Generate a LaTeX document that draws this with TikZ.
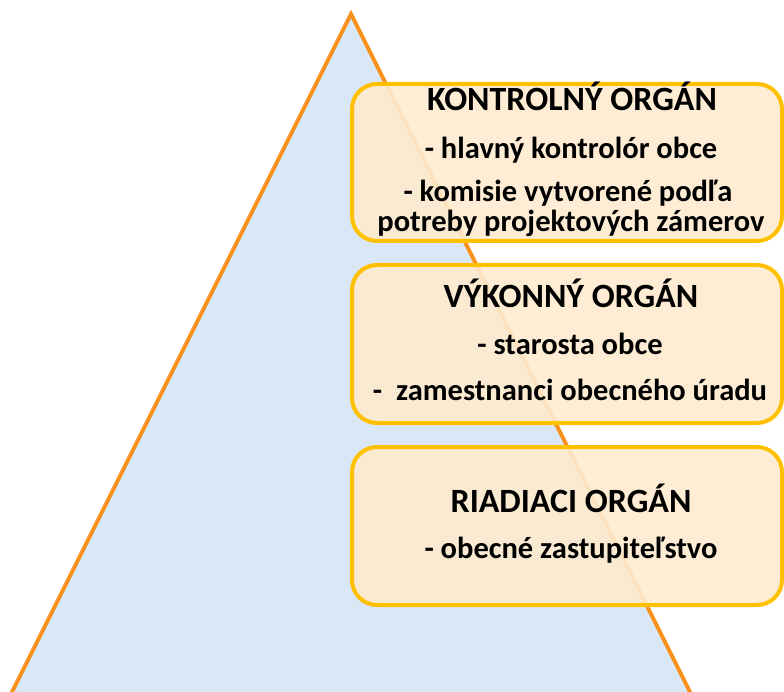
\documentclass[tikz,border=0pt]{standalone}
\usepackage{fontspec}
\setmainfont{Carlito}
\definecolor{triblue}{RGB}{218,231,246}
\definecolor{triedge}{RGB}{247,146,30}
\definecolor{boxfill}{RGB}{254,235,207}
\definecolor{boxedge}{RGB}{255,192,0}
\tikzset{
  orgbox/.style={draw=boxedge, line width=4pt, fill=boxfill, fill opacity=0.9, rounded corners=25pt},
  ttl/.style={anchor=base, inner sep=0pt, font=\bfseries\fontsize{34}{36}\selectfont},
  itm/.style={anchor=base, inner sep=0pt, font=\bfseries\fontsize{30.5}{32}\selectfont}
}
\begin{document}
\begin{tikzpicture}[x=1pt,y=-1pt]
\useasboundingbox (0,0) rectangle (784,692);
\clip (0,0) rectangle (784,692);
% pyramid
\coordinate (apex) at (351,14);
\coordinate (bl) at (4,708);
\coordinate (br) at (698,708);
\fill[triblue] (apex) -- (br) -- (bl) -- cycle;
\draw[triedge, line width=4pt, line join=miter] (bl) -- (apex) -- (br);
% boxes
\path[orgbox] (352,84) rectangle (782,241);
\node[inner sep=0pt] (b1) at (567,162.5) {};
\path[orgbox] (352,265) rectangle (782,423);
\node[inner sep=0pt] (b2) at (567,344) {};
\path[orgbox] (352,447) rectangle (782,605);
\node[inner sep=0pt] (b3) at (567,526) {};
% texts box 1
\node[ttl] (t1) at (572,111) {KONTROLNÝ ORGÁN};
\node[itm] (t1a) at (571,159) {- hlavný kontrolór obce};
\node[itm] (t1b) at (568,202) {- komisie vytvorené podľa};
\node[itm] (t1c) at (571,232) {potreby projektových zámerov};
% texts box 2
\node[ttl] (t2) at (571,308) {VÝKONNÝ ORGÁN};
\node[itm] (t2a) at (570,355) {- starosta obce};
\node[itm] (t2b) at (570,400) {-\ \ zamestnanci obecného úradu};
% texts box 3
\node[ttl] (t3) at (571,512) {RIADIACI ORGÁN};
\node[itm] (t3a) at (571,558) {- obecné zastupiteľstvo};
\end{tikzpicture}
\end{document}
